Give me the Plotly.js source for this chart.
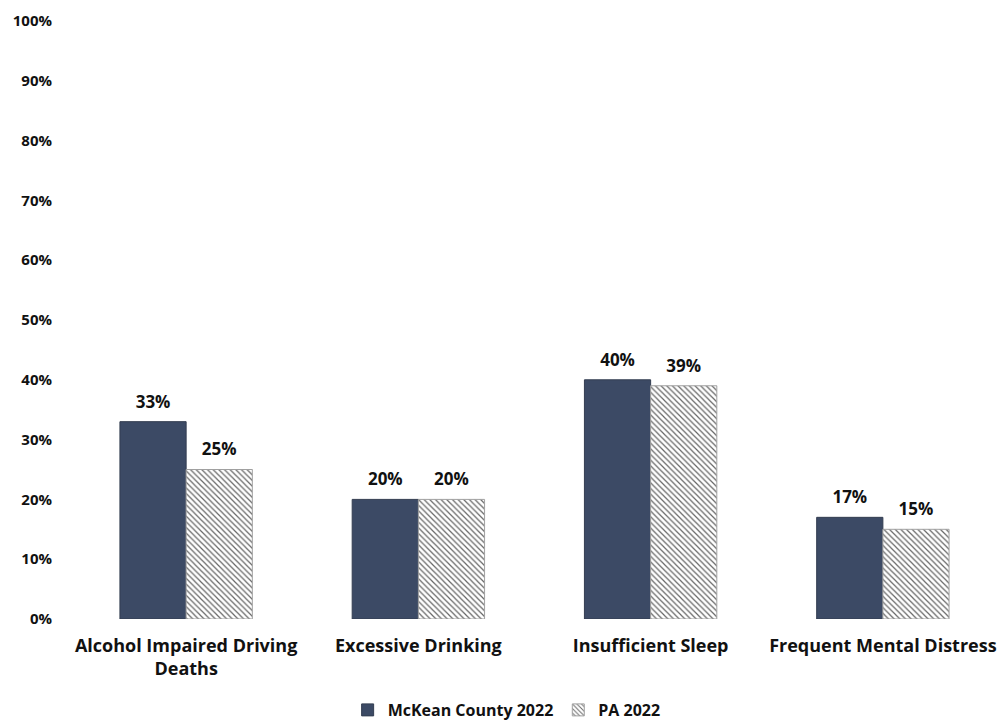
<!DOCTYPE html>
<html><head><meta charset="utf-8">
<script src="https://cdn.plot.ly/plotly-3.0.1.min.js"></script>
<style>body{margin:0;background:#fff}#c{width:999px;height:723px}</style>
</head><body><div id="c"></div>
<script>
const categories = ["Alcohol Impaired Driving<br>Deaths", "Excessive Drinking", "Insufficient Sleep", "Frequent Mental Distress"];
const mckean = [33, 20, 40, 17];
const pa = [25, 20, 39, 15];
const seriesNames = ["McKean County 2022", "PA 2022"];
const yTicks = [0,10,20,30,40,50,60,70,80,90,100];

const font = "'Open Sans', sans-serif";
const lbl = v => '<span style="font-size:17px">' + v + '%</span><br> ';
const traces = [
 {type:'bar', name:seriesNames[0], x:categories, y:mckean,
  marker:{color:'#3c4a65', line:{color:'#333d50', width:1}},
  text:mckean.map(lbl), textposition:'outside', cliponaxis:false,
  textfont:{family:font, size:7, color:'#111', weight:'bold'}},
 {type:'bar', name:seriesNames[1], x:categories, y:pa,
  marker:{color:'#ffffff', line:{color:'#a0a0a0', width:1},
   pattern:{shape:'\\', fgcolor:'#666666', bgcolor:'#ffffff', size:4, solidity:0.3}},
  text:pa.map(lbl), textposition:'outside', cliponaxis:false,
  textfont:{family:font, size:7, color:'#111', weight:'bold'}}
];
const layout = {
 width:999, height:723,
 margin:{l:70, r:0, t:21, b:104},
 paper_bgcolor:'#fff', plot_bgcolor:'#fff',
 barmode:'group', bargap:0.43, bargroupgap:0,
 font:{family:font, color:'#111'},
 xaxis:{showline:false, showgrid:false, ticks:'', automargin:false, ticklabelstandoff:14,
   tickfont:{size:18, weight:'bold', color:'#111'}},
 yaxis:{range:[0,100], tickvals:yTicks, ticktext:yTicks.map(v=>v+'%'), showgrid:false, zeroline:false, showline:false,
   automargin:false, tickfont:{size:15, weight:'bold', color:'#111'}, ticklabelstandoff:17},
 showlegend:true,
 legend:{orientation:'h', x:0.47, xref:'paper', xanchor:'center', yref:'container', y:0.018, yanchor:'middle',
   font:{size:16, weight:'bold'}, itemwidth:30}
};
Plotly.newPlot('c', traces, layout, {displayModeBar:false});
</script></body></html>
